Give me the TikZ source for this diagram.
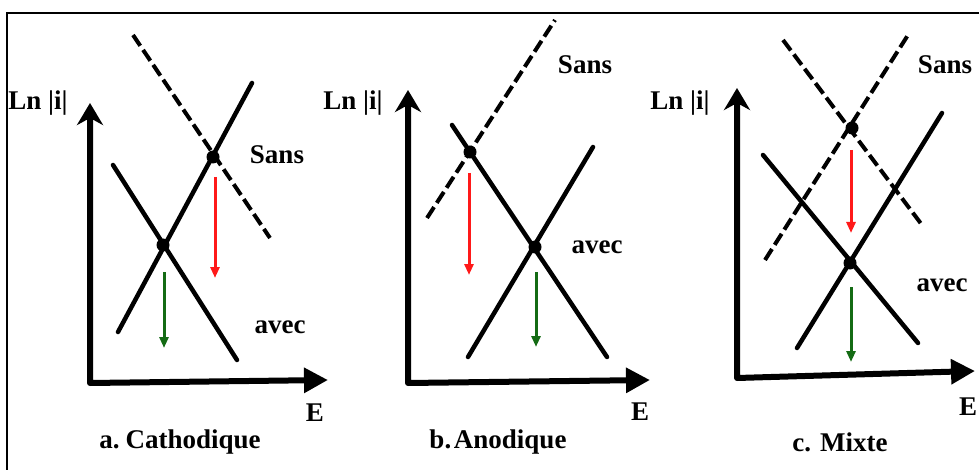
\documentclass[tikz,border=0pt]{standalone}
\usepackage{fontspec}
\setmainfont{Liberation Serif}
\usetikzlibrary{arrows.meta}

\definecolor{rouge}{rgb}{1,0.1,0.1}
\definecolor{vert}{rgb}{0.08,0.42,0.08}

\tikzset{
	axe/.style = {line width=6pt, line join=round, {Stealth[length=22pt,width=26pt,inset=7pt]}-{Triangle[length=24pt,width=24pt]}},
	droite/.style = {line width=4.5pt, line cap=round},
	sans/.style = {line width=4pt, dash pattern=on 13pt off 5pt},
	chute/.style = {line width=3pt, -{Triangle[length=11pt,width=9pt]}},
	lbl/.style = {font=\fontsize{27}{32}\selectfont\bfseries, inner sep=0pt},
}

\begin{document}
\begin{tikzpicture}[x=1pt, y=-1pt]
	\useasboundingbox (0,0) rectangle (979,470);
	\draw[line width=2pt] (7,475) -- (7,13) -- (985,13);

	% a. Cathodique
	\draw[axe] (90,103) -- (90,383) -- (328,380);
	\draw[sans] (133,35) -- (270,238);
	\draw[droite] (118,332) -- (252,83);
	\draw[droite] (113,165) -- (237,360);
	\fill (213,157) circle (6.5pt);
	\fill (163,245) circle (6.5pt);
	\draw[chute, rouge] (215,177) -- (215,278);
	\draw[chute, vert] (164,272) -- (164,348);
	\node[lbl] (lnA) at (38,103) {Ln |i|};
	\node[lbl] (sansA) at (277,155) {Sans};
	\node[lbl] (avecA) at (280,327) {avec};
	\node[lbl] (eA) at (315,413) {E};
	\node[lbl] (titreA) at (180,442) {a.\hspace{0.22em}Cathodique};

	% b. Anodique
	\draw[axe] (408,90) -- (408,383) -- (650,380);
	\draw[sans] (427,218) -- (555,20);
	\draw[droite] (452,125) -- (607,357);
	\draw[droite] (468,357) -- (593,147);
	\fill (470,152) circle (6.5pt);
	\fill (535,247) circle (6.5pt);
	\draw[chute, rouge] (469,173) -- (469,275);
	\draw[chute, vert] (536,272) -- (536,347);
	\node[lbl] (lnB) at (353,103) {Ln |i|};
	\node[lbl] (sansB) at (585,65) {Sans};
	\node[lbl] (avecB) at (597,247) {avec};
	\node[lbl] (eB) at (640,412) {E};
	\node[lbl] (titreB) at (498,442) {b.\hspace{0.1em}Anodique};

	% c. Mixte
	\draw[axe] (737,88) -- (737,378) -- (975,371);
	\draw[sans] (783,40) -- (922,225);
	\draw[sans] (765,260) -- (908,35);
	\draw[droite] (763,155) -- (918,343);
	\draw[droite] (797,348) -- (942,113);
	\fill (852,128) circle (6.5pt);
	\fill (850,263) circle (6.5pt);
	\draw[chute, rouge] (851,150) -- (851,233);
	\draw[chute, vert] (851,287) -- (851,362);
	\node[lbl] (lnC) at (680,103) {Ln |i|};
	\node[lbl] (sansC) at (945,65) {Sans};
	\node[lbl] (avecC) at (942,285) {avec};
	\node[lbl] (eC) at (968,407) {E};
	\node[lbl] (titreC) at (840,442) {c. Mixte};
\end{tikzpicture}
\end{document}
